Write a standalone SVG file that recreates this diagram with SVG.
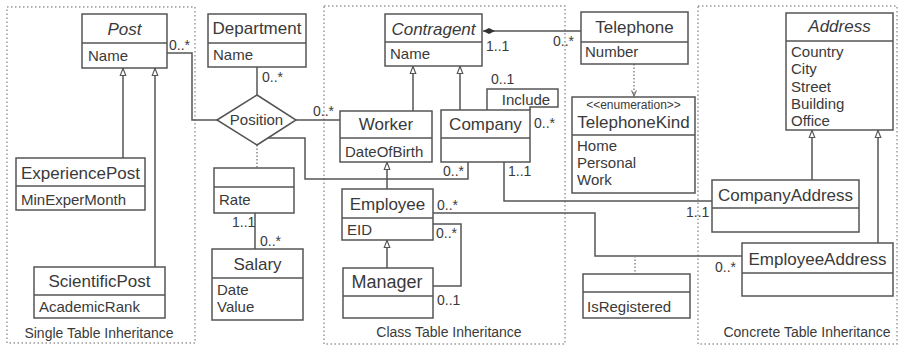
<svg xmlns="http://www.w3.org/2000/svg" width="901" height="347" viewBox="0 0 901 347">
<style>
.bg{fill:#fff}
.box{fill:#fff;stroke:#555;stroke-width:1.5}
.ln{fill:none;stroke:#555;stroke-width:1.5}
.dl{fill:none;stroke:#888;stroke-width:1.5;stroke-dasharray:1.5 2}
.frame{fill:none;stroke:#999;stroke-width:1.5;stroke-dasharray:1.5 2.5}
text{font-family:"Liberation Sans",Arial,sans-serif;fill:#3a3a3a}
.cn{font-size:17px;text-anchor:middle}
.ab{font-style:italic}
.at{font-size:15px}
.m{font-size:14px}
.fl{font-size:14px;text-anchor:middle}
.st{font-size:12px;text-anchor:middle}
</style>
<defs>
<marker id="gen" viewBox="0 0 10 10" refX="10" refY="5" markerWidth="8" markerHeight="8" orient="auto" markerUnits="userSpaceOnUse">
<path d="M0.5,1.5 L9.5,5 L0.5,8.5 z" fill="#fff" stroke="#555" stroke-width="1.5"/>
</marker>
<marker id="comp" viewBox="0 0 12 8" refX="0" refY="4" markerWidth="12" markerHeight="8" orient="auto" markerUnits="userSpaceOnUse">
<path d="M0,4 L6,1 L12,4 L6,7 z" fill="#333"/>
</marker>
<marker id="dep" viewBox="0 0 10 10" refX="9" refY="5" markerWidth="7" markerHeight="7" orient="auto" markerUnits="userSpaceOnUse">
<path d="M1,1.5 L9,5 L1,8.5" fill="none" stroke="#666" stroke-width="1.5"/>
</marker>
</defs>
<rect class="bg" x="0" y="0" width="901" height="347"/>

<g id="frames">
<rect class="frame" x="7" y="7" width="188" height="336"/>
<rect class="frame" x="324" y="6" width="241" height="338"/>
<rect class="frame" x="698" y="6" width="199" height="338"/>
<text class="fl" x="99" y="338">Single Table Inheritance</text>
<text class="fl" x="449" y="337">Class Table Inheritance</text>
<text class="fl" x="807" y="337">Concrete Table Inheritance</text>
</g>

<g id="connectors">
<path class="ln" d="M167,53 H192 V120 H217"/>
<path class="ln" d="M257,67 V95"/>
<path class="ln" d="M296,120 H340"/>
<path class="ln" d="M268,138 H305 V179 H468 V162"/>
<path class="dl" d="M257,145 V168"/>
<path class="ln" d="M255,213 V249"/>
<path class="ln" d="M123,158 V68" marker-end="url(#gen)"/>
<path class="ln" d="M155,267 V68" marker-end="url(#gen)"/>
<path class="ln" d="M413,111 V66" marker-end="url(#gen)"/>
<path class="ln" d="M460,110 V66" marker-end="url(#gen)"/>
<path class="ln" d="M387,189 V162" marker-end="url(#gen)"/>
<path class="ln" d="M387,268 V240" marker-end="url(#gen)"/>
<path class="ln" d="M487,110 V89 H558 V107 H530 V110"/>
<path class="ln" d="M483,31 H581" marker-start="url(#comp)"/>
<path class="dl" d="M634,64 V96" marker-end="url(#dep)"/>
<path class="ln" d="M504,162 V201 H712"/>
<path class="ln" d="M433,213 H595 V256 H742"/>
<path class="dl" d="M635,256 V274"/>
<path class="ln" d="M433,224 H461 V286 H433"/>
<path class="ln" d="M812,180 V130" marker-end="url(#gen)"/>
<path class="ln" d="M878,243 V130" marker-end="url(#gen)"/>
<polygon class="box" points="217,120 257,95 296,120 257,145"/>
<text class="at" x="256.5" y="125" text-anchor="middle">Position</text>
<text class="at" x="526" y="105" text-anchor="middle">Include</text>
<text class="m" x="169" y="50">0..*</text>
<text class="m" x="262" y="82">0..*</text>
<text class="m" x="313" y="116">0..*</text>
<text class="m" x="443" y="176">0..*</text>
<text class="m" x="232" y="227">1..1</text>
<text class="m" x="260" y="246">0..*</text>
<text class="m" x="491" y="84">0..1</text>
<text class="m" x="534" y="128">0..*</text>
<text class="m" x="486" y="51">1..1</text>
<text class="m" x="553" y="46">0..*</text>
<text class="m" x="508" y="176">1..1</text>
<text class="m" x="686" y="217">1..1</text>
<text class="m" x="437" y="210">0..*</text>
<text class="m" x="715" y="272">0..*</text>
<text class="m" x="436" y="238">0..*</text>
<text class="m" x="437" y="305">0..1</text>
</g>

<g id="Post">
<rect class="box" x="82" y="14" width="85" height="54"/>
<path class="ln" d="M82,43 H167"/>
<text class="cn ab" x="124.5" y="35">Post</text>
<text class="at" x="88" y="61">Name</text>
</g>
<g id="ExperiencePost">
<rect class="box" x="16" y="158" width="129" height="52"/>
<path class="ln" d="M16,186 H145"/>
<text class="cn" x="80.5" y="179">ExperiencePost</text>
<text class="at" x="21" y="205">MinExperMonth</text>
</g>
<g id="ScientificPost">
<rect class="box" x="34" y="267" width="131" height="51"/>
<path class="ln" d="M34,295 H165"/>
<text class="cn" x="99.5" y="287">ScientificPost</text>
<text class="at" x="39" y="312">AcademicRank</text>
</g>
<g id="Department">
<rect class="box" x="208" y="14" width="98" height="53"/>
<path class="ln" d="M208,43 H306"/>
<text class="cn" x="257" y="34">Department</text>
<text class="at" x="213" y="60">Name</text>
</g>
<g id="PositionClass">
<rect class="box" x="214" y="168" width="80" height="45"/>
<path class="ln" d="M214,187 H294"/>
<text class="at" x="219" y="205">Rate</text>
</g>
<g id="Salary">
<rect class="box" x="212" y="249" width="91" height="71"/>
<path class="ln" d="M212,278 H303"/>
<text class="cn" x="257.5" y="270">Salary</text>
<text class="at" x="217" y="295">Date</text>
<text class="at" x="217" y="312">Value</text>
</g>
<g id="Contragent">
<rect class="box" x="385" y="14" width="97" height="52"/>
<path class="ln" d="M385,42 H482"/>
<text class="cn ab" x="433.5" y="35">Contragent</text>
<text class="at" x="390" y="59">Name</text>
</g>
<g id="Worker">
<rect class="box" x="340" y="111" width="92" height="51"/>
<path class="ln" d="M340,138 H432"/>
<text class="cn" x="386" y="130">Worker</text>
<text class="at" x="345" y="157">DateOfBirth</text>
</g>
<g id="Company">
<rect class="box" x="441" y="110" width="89" height="52"/>
<path class="ln" d="M441,138 H530"/>
<text class="cn" x="485.5" y="130">Company</text>
</g>
<g id="Employee">
<rect class="box" x="342" y="189" width="91" height="51"/>
<path class="ln" d="M342,218 H433"/>
<text class="cn" x="387.5" y="210">Employee</text>
<text class="at" x="347" y="235">EID</text>
</g>
<g id="Manager">
<rect class="box" x="343" y="268" width="90" height="50"/>
<path class="ln" d="M343,296 H433"/>
<text class="cn" x="387" y="288" style="font-size:18px">Manager</text>
</g>
<g id="Telephone">
<rect class="box" x="581" y="12" width="107" height="52"/>
<path class="ln" d="M581,42 H688"/>
<text class="cn" x="634.5" y="33">Telephone</text>
<text class="at" x="585" y="57">Number</text>
</g>
<g id="TelephoneKind">
<rect class="box" x="572" y="97" width="123" height="96"/>
<path class="ln" d="M572,135 H695"/>
<text class="st" x="633.5" y="109">&lt;&lt;enumeration&gt;&gt;</text>
<text class="cn" x="633.5" y="128">TelephoneKind</text>
<text class="at" x="577" y="151">Home</text>
<text class="at" x="577" y="168">Personal</text>
<text class="at" x="577" y="185">Work</text>
</g>
<g id="EmployeeAddressClass">
<rect class="box" x="583" y="274" width="107" height="44"/>
<path class="ln" d="M583,292 H690"/>
<text class="at" x="587" y="312">IsRegistered</text>
</g>
<g id="Address">
<rect class="box" x="786" y="13" width="107" height="117"/>
<path class="ln" d="M786,41 H893"/>
<text class="cn ab" x="839.5" y="32">Address</text>
<text class="at" x="791" y="57">Country</text>
<text class="at" x="791" y="74">City</text>
<text class="at" x="791" y="92">Street</text>
<text class="at" x="791" y="109">Building</text>
<text class="at" x="791" y="126">Office</text>
</g>
<g id="CompanyAddress">
<rect class="box" x="712" y="180" width="147" height="52"/>
<path class="ln" d="M712,208 H859"/>
<text class="cn" x="785.5" y="201">CompanyAddress</text>
</g>
<g id="EmployeeAddress">
<rect class="box" x="742" y="243" width="151" height="53"/>
<path class="ln" d="M742,273 H893"/>
<text class="cn" x="817.5" y="265">EmployeeAddress</text>
</g>
</svg>
